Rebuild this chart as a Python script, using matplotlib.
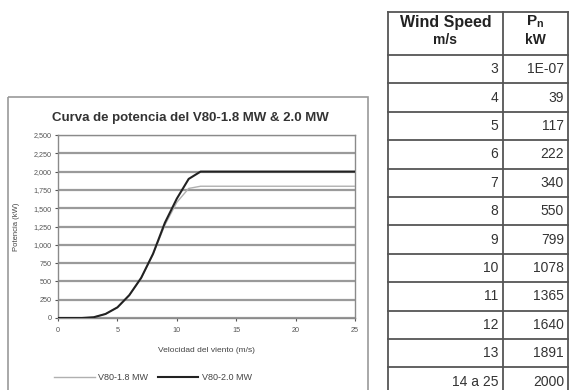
import matplotlib.pyplot as plt
from matplotlib.ticker import FuncFormatter, MultipleLocator

plt.rcParams['font.family'] = ['Liberation Sans', 'DejaVu Sans']
plt.rcParams['mathtext.fontset'] = 'custom'
plt.rcParams['mathtext.rm'] = 'Liberation Sans'
plt.rcParams['mathtext.bf'] = 'Liberation Sans:bold'

# power curves (kW) against wind speed (m/s)
wind = [0, 1, 2, 3, 4, 5, 6, 7, 8, 9, 10, 11, 12, 13, 14, 15, 16, 17, 18, 19, 20, 21, 22, 23, 24, 25]
power_18 = [0, 0, 0, 10, 55, 145, 310, 545, 870, 1270, 1580, 1770, 1800, 1800,
            1800, 1800, 1800, 1800, 1800, 1800, 1800, 1800, 1800, 1800, 1800, 1800]
power_20 = [0, 0, 0, 10, 55, 145, 312, 548, 877, 1302, 1630, 1900, 2000, 2000,
            2000, 2000, 2000, 2000, 2000, 2000, 2000, 2000, 2000, 2000, 2000, 2000]

# tabulated values
table_speed = ['3', '4', '5', '6', '7', '8', '9', '10', '11', '12', '13', '14 a 25']
table_power = ['1E-07', '39', '117', '222', '340', '550', '799', '1078', '1365', '1640', '1891', '2000']

W, H = 571, 390
fig = plt.figure(figsize=(W / 100, H / 100), dpi=100)

# pixel-space layer for the chart frame and the table
over = fig.add_axes([0, 0, 1, 1], zorder=-1)
over.set_xlim(0, W)
over.set_ylim(H, 0)
over.axis('off')
over.add_patch(plt.Rectangle((8, 97), 360, 300, fill=False, ec='#9a9a9a', lw=1.2))

ax = fig.add_axes([58 / W, 72 / H, 297 / W, 183 / H])
ax.plot(wind, power_18, color='#b0b0b0', lw=1.0, label='V80-1.8 MW', zorder=3)
ax.plot(wind, power_20, color='#222222', lw=1.5, label='V80-2.0 MW', zorder=4)
ax.set_xlim(0, 25)
ax.set_ylim(0, 2500)
ax.xaxis.set_major_locator(MultipleLocator(5))
ax.yaxis.set_major_locator(MultipleLocator(250))
ax.yaxis.set_major_formatter(FuncFormatter(lambda v, p: f'{v:,.0f}'))
ax.grid(axis='y', color='#9a9a9a', lw=1.6)
ax.set_axisbelow(True)
for s in ax.spines.values():
    s.set_color('#8a8a8a')
    s.set_linewidth(1.0)
ax.tick_params(axis='both', labelsize=5.2, colors='#555555', length=2.5, width=0.8, pad=2)
ax.tick_params(axis='x', pad=4)

fig.text(190 / W, 1 - 118 / H, 'Curva de potencia del V80-1.8 MW & 2.0 MW', fontsize=9.5,
         fontweight='bold', color='#333333', ha='center', va='center')
ax.set_xlabel('Velocidad del viento (m/s)', fontsize=6, color='#444444', labelpad=9)
ax.set_ylabel('Potencia (kW)', fontsize=5.5, color='#444444', labelpad=10)

fig.legend(loc='center', bbox_to_anchor=(153 / W, 1 - 378 / H), ncol=2, frameon=False,
           fontsize=6.5, handlelength=4.5, columnspacing=1.0, handletextpad=0.4,
           labelcolor='#444444')

# table grid
x0, x1, x2 = 388, 503, 568
top, head = 12, 55
row_h = 28.4
line_kw = dict(color='#555555', lw=1.3)
for x in (x0, x1, x2):
    over.plot([x, x], [top, H + 5], **line_kw)
over.plot([x0, x2], [top, top], **line_kw)
for k in range(len(table_speed)):
    y = head + row_h * k
    over.plot([x0, x2], [y, y], **line_kw)

over.text((x0 + x1) / 2, 22, 'Wind Speed', ha='center', va='center',
          fontsize=11.5, fontweight='bold', color='#222222')
over.text((x0 + x1) / 2, 40, 'm/s', ha='center', va='center',
          fontsize=10, fontweight='bold', color='#222222')
over.text((x1 + x2) / 2, 22, r'$\mathbf{P_n}$', ha='center', va='center',
          fontsize=11, color='#222222')
over.text((x1 + x2) / 2, 40, 'kW', ha='center', va='center',
          fontsize=10, fontweight='bold', color='#222222')

for i, (sp, pw) in enumerate(zip(table_speed, table_power)):
    y = head + row_h * (i + 0.5)
    over.text(x1 - 5, y, sp, ha='right', va='center', fontsize=10, color='#333333')
    over.text(x2 - 4, y, pw, ha='right', va='center', fontsize=10, color='#333333')

fig.savefig('out.png', dpi=100)
